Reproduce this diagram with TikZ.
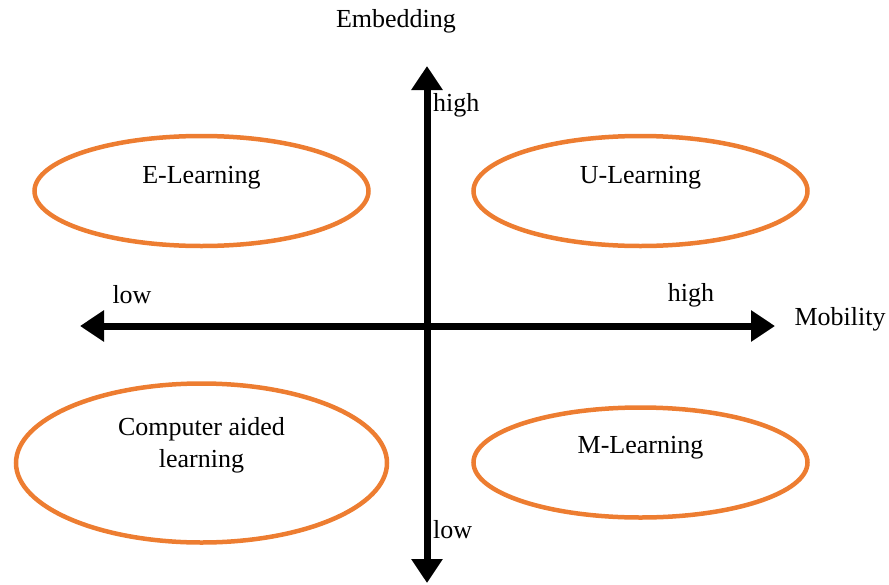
\documentclass[tikz,border=0pt]{standalone}
\usepackage{fontspec}
\setmainfont{Liberation Serif}
\usetikzlibrary{arrows.meta,shapes.geometric}
\definecolor{orng}{HTML}{ED7D31}
\begin{document}
\begin{tikzpicture}[x=1pt,y=-1pt,
  oval/.style={draw=orng,line width=4.5pt,ellipse,inner sep=0pt},
  lbl/.style={inner sep=0pt,align=center,font=\fontsize{26}{32}\selectfont},
  axis/.style={line width=7pt,-{Triangle[length=24pt,width=30pt]}}]
\useasboundingbox (0,0) rectangle (889,584);
% axes
\coordinate (o) at (427,326);
\coordinate (l) at (80,326);
\coordinate (r) at (775,326);
\coordinate (t) at (427,66);
\coordinate (b) at (427,583);
\draw[axis] (o) -- (l);
\draw[axis] (o) -- (r);
\draw[axis] (o) -- (t);
\draw[axis] (o) -- (b);
% ellipses
\node[oval,minimum width=334pt,minimum height=110pt] (e) at (201.5,191) {};
\node[oval,minimum width=334pt,minimum height=110pt] (u) at (640.5,191) {};
\node[oval,minimum width=371pt,minimum height=159pt] (c) at (201.5,463) {};
\node[oval,minimum width=334pt,minimum height=110pt] (m) at (640.5,462.5) {};
\node[lbl] (et) at (201.5,178) {E-Learning};
\node[lbl] (ut) at (640.5,178) {U-Learning};
\node[lbl] (ct) at (201.5,445) {Computer aided\\learning};
\node[lbl] (mt) at (640.5,448) {M-Learning};
% labels
\node[lbl] (emb) at (396,21) {Embedding};
\node[lbl,anchor=west] (hi1) at (433,105) {high};
\node[lbl,anchor=west] (lo2) at (433,530) {low};
\node[lbl] (lo1) at (132,295) {low};
\node[lbl] (hi2) at (691,295) {high};
\node[lbl] (mob) at (840,319) {Mobility};
\end{tikzpicture}
\end{document}
